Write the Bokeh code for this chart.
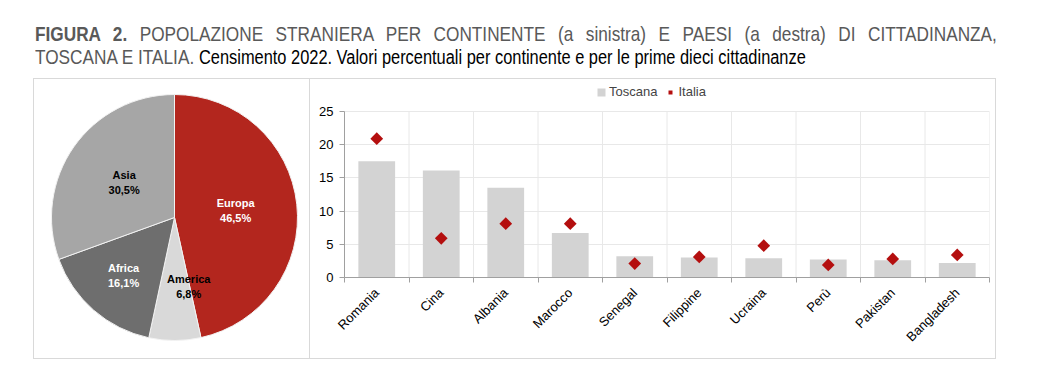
import math
from bokeh.plotting import figure
from bokeh.models import (Range1d, FixedTicker, Legend, LegendItem, Div, ColumnDataSource)
from bokeh.layouts import column, row
from bokeh.embed import file_html
from bokeh.resources import INLINE
from bokeh.core.properties import value

# ---------------- data ----------------
continents = ["Europa", "America", "Africa", "Asia"]
continent_pct = [46.5, 6.8, 16.1, 30.5]
continent_labels = ["46,5%", "6,8%", "16,1%", "30,5%"]

countries = ["Romania", "Cina", "Albania", "Marocco", "Senegal", "Filippine",
             "Ucraina", "Perù", "Pakistan", "Bangladesh"]
toscana = [17.5, 16.1, 13.5, 6.7, 3.2, 3.0, 2.9, 2.7, 2.6, 2.2]
italia = [20.9, 5.9, 8.1, 8.1, 2.1, 3.1, 4.8, 1.9, 2.8, 3.4]
y_ticks = [0, 5, 10, 15, 20, 25]

# ---------------- styles ----------------
FONT = "Liberation Sans"
pie_colors = ["#B3261E", "#D9D9D9", "#6E6E6E", "#A6A6A6"]
pie_text_colors = ["white", "black", "white", "black"]
label_r = [0.5, 0.56, 0.63, 0.5]
label_dx = [0, 14, 0, 0]
BORDER = "#D9D9D9"
GRID = "#E8E8E8"

# ---------------- title ----------------
SC = 0.82
title_html = f"""
<div style="font-family:'Liberation Sans', Arial, sans-serif; font-size:21px; line-height:23px; color:#595959;
            width:{962/SC:.0f}px; padding-top:22px; transform:scaleX({SC}); transform-origin:0 0;">
  <div style="text-align:justify; text-align-last:justify; white-space:nowrap;"><b>FIGURA 2.</b> POPOLAZIONE STRANIERA PER CONTINENTE (a sinistra) E PAESI (a destra) DI CITTADINANZA,</div>
  <div style="white-space:nowrap;">TOSCANA E ITALIA. <span style="color:#000; font-size:20px;">Censimento 2022. Valori percentuali per continente e per le prime dieci cittadinanze</span></div>
</div>
"""
title = Div(text=title_html, width=990, height=78, margin=(0, 0, 0, 2))

# ---------------- pie ----------------
PW, PH = 277, 281
cx, cy, R = 140, 138, 123
pie = figure(width=PW, height=PH, output_backend="svg", toolbar_location=None,
             x_range=Range1d(-cx, PW - cx), y_range=Range1d(-(PH - cy), cy),
             min_border=0, margin=0)
pie.frame_align = False
pie.axis.visible = False
pie.grid.visible = False
pie.outline_line_color = None
pie.styles = {"border": f"1px solid {BORDER}"}

total = sum(continent_pct)
starts, ends, lx, ly, ltxt = [], [], [], [], []
cum = 0.0
for i, v in enumerate(continent_pct):
    a0 = math.pi / 2 - 2 * math.pi * cum / total
    a1 = math.pi / 2 - 2 * math.pi * (cum + v) / total
    mid = (a0 + a1) / 2
    starts.append(a0)
    ends.append(a1)
    lx.append(R * label_r[i] * math.cos(mid) + label_dx[i])
    ly.append(R * label_r[i] * math.sin(mid))
    ltxt.append(f"{continents[i]}\n{continent_labels[i]}")
    cum += v

src = ColumnDataSource(dict(start=starts, end=ends, color=pie_colors,
                            lx=lx, ly=ly, txt=ltxt, tc=pie_text_colors))
pie.wedge(x=0, y=0, radius=R, start_angle="start", end_angle="end", direction="clock",
          fill_color="color", line_color="#F2F2F2", line_width=1, source=src)
pie.text(x="lx", y="ly", text="txt", text_color="tc", source=src,
         text_font=value(FONT), text_font_style="bold",
         text_font_size="11px", text_align="center", text_baseline="middle",
         text_line_height=1.25)

# ---------------- bars ----------------
BW, BH = 686, 281
TOP, BOTTOM = 4, 83
PLOT_H_25 = 166          # pixels spanned by 0..25
n = len(countries)
centers = [i + 0.5 for i in range(n)]
bounds = list(range(n + 1))
y_top = y_ticks[-1] * (BH - TOP - BOTTOM) / PLOT_H_25
bar = figure(width=BW, height=BH, output_backend="svg", toolbar_location=None,
             x_range=Range1d(0, n), y_range=Range1d(0, y_top),
             min_border_left=34, min_border_right=7, min_border_top=TOP, min_border_bottom=BOTTOM,
             margin=0)
bar.frame_align = False
bar.outline_line_color = None
bar.styles = {"border-top": f"1px solid {BORDER}", "border-right": f"1px solid {BORDER}",
              "border-bottom": f"1px solid {BORDER}"}

# vertical grid lines at category boundaries (only up to 25)
gsrc = ColumnDataSource(dict(x=bounds, y0=[y_ticks[0]] * len(bounds), y1=[y_ticks[-1]] * len(bounds)))
bar.segment(x0="x", y0="y0", x1="x", y1="y1", source=gsrc, line_color=GRID, line_width=1,
            level="underlay")

bsrc = ColumnDataSource(dict(x=centers, tos=toscana, ita=italia, name=countries))
r_bar = bar.vbar(x="x", top="tos", width=0.57, source=bsrc, fill_color="#D3D3D3", line_color=None)
r_dot = bar.scatter(x="x", y="ita", source=bsrc, marker="square", angle=math.pi / 4, size=9,
                    fill_color="#B40F0F", line_color=None)

xa = bar.xaxis[0]
xa.ticker = FixedTicker(ticks=centers, minor_ticks=bounds)
xa.major_label_overrides = {c: name for c, name in zip(centers, countries)}
xa.major_tick_out = 0
xa.major_tick_in = 0
xa.minor_tick_out = 5
xa.minor_tick_in = 0
xa.minor_tick_line_color = "#A0A0A0"
xa.axis_line_color = "#A0A0A0"
xa.major_label_orientation = math.pi / 4
xa.major_label_text_font = FONT
xa.major_label_text_font_size = "13px"
xa.major_label_text_color = "#000000"
xa.major_label_standoff = 8

ya = bar.yaxis[0]
ya.ticker = FixedTicker(ticks=y_ticks)
ya.bounds = (y_ticks[0], y_ticks[-1])
ya.axis_line_color = "#A0A0A0"
ya.major_tick_line_color = "#A0A0A0"
ya.major_tick_out = 5
ya.major_tick_in = 0
ya.minor_tick_line_color = None
ya.major_label_text_font = FONT
ya.major_label_text_font_size = "13px"
ya.major_label_text_color = "#000000"
ya.major_label_standoff = 6

bar.xgrid.visible = False
bar.ygrid.ticker = FixedTicker(ticks=y_ticks)
bar.ygrid.grid_line_color = GRID

legend = Legend(items=[LegendItem(label="Toscana", renderers=[r_bar]),
                       LegendItem(label="Italia", renderers=[r_dot])],
                orientation="horizontal", location=(252, 178),
                label_text_font=FONT, label_text_font_size="13px",
                glyph_width=10, glyph_height=10, label_standoff=3, spacing=8,
                padding=0, margin=0, border_line_color=None, background_fill_alpha=0,
                label_height=14)
bar.add_layout(legend)

layout = column(title, row(pie, bar), margin=(0, 0, 0, 33))
open("out.html", "w").write(file_html(layout, INLINE))
